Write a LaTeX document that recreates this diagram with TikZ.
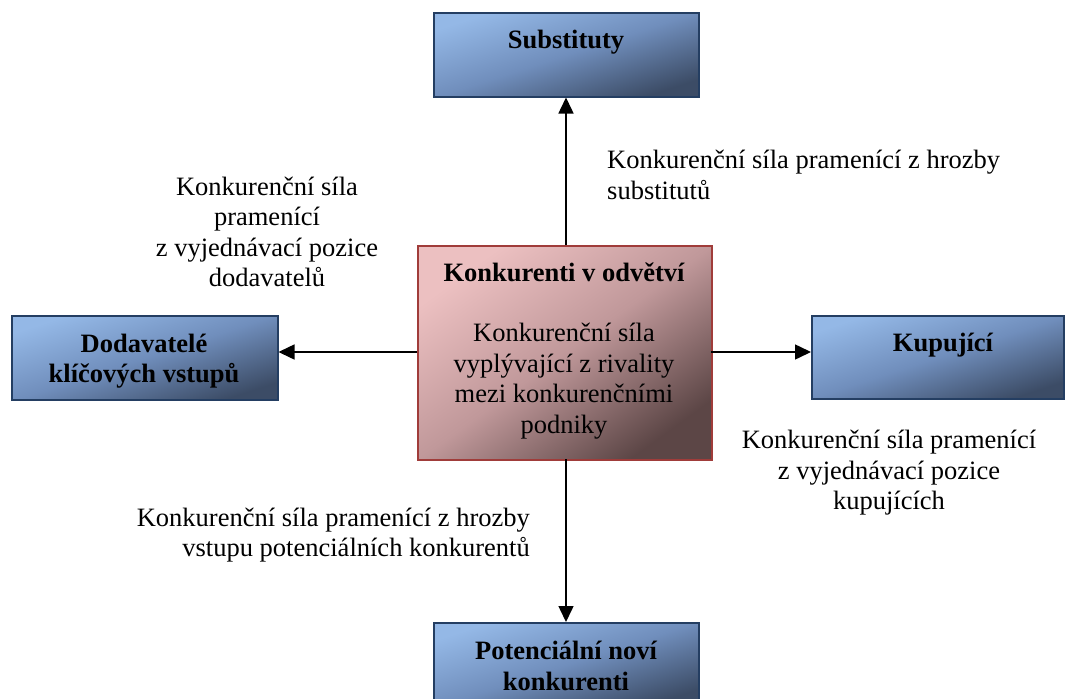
\documentclass[tikz,border=0pt]{standalone}
\usepackage{fontspec}
\setmainfont{Liberation Serif}
\usetikzlibrary{arrows.meta}

\definecolor{bluelight}{RGB}{148,184,230}
\definecolor{bluemid}{RGB}{112,142,188}
\definecolor{bluedark}{RGB}{60,76,102}
\definecolor{blueedge}{RGB}{36,62,98}
\definecolor{pinklight}{RGB}{236,192,193}
\definecolor{pinkmid}{RGB}{192,152,154}
\definecolor{pinkdark}{RGB}{92,70,70}
\definecolor{pinkedge}{RGB}{160,60,58}

\tikzset{
  txt/.style={inner sep=0pt, font=\fontsize{26.5}{30.5}\selectfont},
  boldtxt/.style={txt, font=\fontsize{26.5}{30.5}\selectfont\bfseries, align=center},
  forcebox/.style={draw=blueedge, line width=1.5pt, top color=bluelight, bottom color=bluedark,
    middle color=bluemid, shading angle=18, inner sep=0pt, anchor=north west},
  rivalbox/.style={draw=pinkedge, line width=1.8pt, top color=pinklight, bottom color=pinkdark,
    middle color=pinkmid, shading angle=36, inner sep=0pt, anchor=north west},
  force/.style={line width=1.5pt, -{Triangle[length=16pt,width=15pt]}}
}

\begin{document}
\begin{tikzpicture}[x=1pt,y=-1pt]
  \clip (0,0) rectangle (1066,699);
  \fill[white] (0,0) rectangle (1066,699);

  % boxes
  \node[rivalbox, minimum width=294pt, minimum height=214pt] (rival) at (417,245) {};
  \node[forcebox, minimum width=265pt, minimum height=84pt] (subst) at (433,12) {};
  \node[forcebox, minimum width=266pt, minimum height=84pt] (suppl) at (11,315) {};
  \node[forcebox, minimum width=252pt, minimum height=83pt] (buyer) at (811,315) {};
  \node[forcebox, minimum width=265pt, minimum height=84pt] (entr) at (433,622) {};

  % box texts
  \node[boldtxt] (substT) at (566,42) {Substituty};
  \node[boldtxt] (supplT) at (144,361) {Dodavatelé\\klíčových vstupů};
  \node[boldtxt] (buyerT) at (943,345) {Kupující};
  \node[boldtxt] (entrT) at (566,666) {Potenciální noví\\konkurenti};
  \node[boldtxt] (rivalT) at (564,272) {Konkurenti v odvětví};
  \node[txt, align=center] (rivalB) at (564,381)
    {Konkurenční síla\\vyplývající z rivality\\mezi konkurenčními\\podniky};

  % connectors
  \coordinate (rN) at (566,245);
  \coordinate (rS) at (566,459);
  \coordinate (rW) at (417,352);
  \coordinate (rE) at (711,352);
  \draw[force] (rN) -- (subst.south -| rN);
  \draw[force] (rS) -- (entr.north -| rS);
  \draw[force] (rW) -- (suppl.east |- rW);
  \draw[force] (rE) -- (buyer.west |- rE);

  % force labels
  \node[txt, anchor=west, align=left] (substL) at (607,175)
    {Konkurenční síla pramenící z hrozby\\substitutů};
  \node[txt, align=center] (supplL) at (267,232)
    {Konkurenční síla\\pramenící\\z vyjednávací pozice\\dodavatelů};
  \node[txt, align=center] (buyerL) at (889,473)
    {Konkurenční síla pramenící\\z vyjednávací pozice\\kupujících};
  \node[txt, anchor=east, align=right] (entrL) at (530,535)
    {Konkurenční síla pramenící z hrozby\\vstupu potenciálních konkurentů};
\end{tikzpicture}
\end{document}
